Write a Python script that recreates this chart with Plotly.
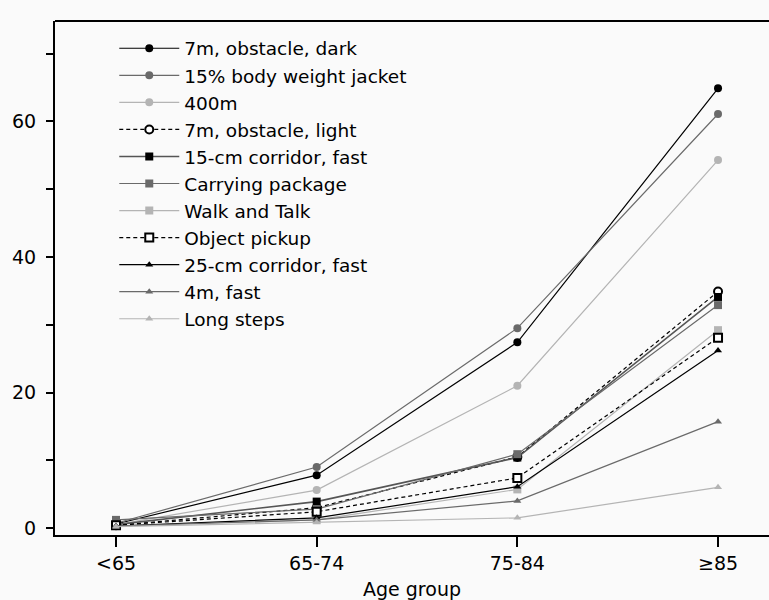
import plotly.graph_objects as go

age_groups = ["<65", "65-74", "75-84", "≥85"]

obstacle_dark = [0.6, 7.8, 27.4, 64.9]
jacket_15 = [0.7, 9.0, 29.5, 61.1]
walk_400m = [0.5, 5.6, 21.0, 54.3]
obstacle_light = [0.4, 3.0, 10.5, 34.9]
corridor_15cm = [0.5, 3.9, 10.4, 34.1]
carrying_package = [1.2, 2.8, 10.9, 32.9]
walk_and_talk = [0.3, 1.2, 5.7, 29.2]
object_pickup = [0.4, 2.4, 7.4, 28.1]
corridor_25cm = [0.3, 1.5, 6.1, 26.2]
fast_4m = [0.3, 1.2, 4.0, 15.7]
long_steps = [0.2, 0.8, 1.5, 6.0]

BLACK = "#000000"
DARK = "#6a6a6a"
LIGHT = "#b4b4b4"

series = [
    ("7m, obstacle, dark", obstacle_dark, BLACK, "solid", 1.2, "circle", BLACK, BLACK),
    ("15% body weight jacket", jacket_15, DARK, "solid", 1.2, "circle", DARK, DARK),
    ("400m", walk_400m, LIGHT, "solid", 1.2, "circle", LIGHT, LIGHT),
    ("7m, obstacle, light", obstacle_light, BLACK, "dash", 1.2, "circle", "white", BLACK),
    ("15-cm corridor, fast", corridor_15cm, "#555555", "solid", 1.6, "square", BLACK, BLACK),
    ("Carrying package", carrying_package, DARK, "solid", 1.2, "square", DARK, DARK),
    ("Walk and Talk", walk_and_talk, LIGHT, "solid", 1.2, "square", LIGHT, LIGHT),
    ("Object pickup", object_pickup, BLACK, "dash", 1.2, "square", "white", BLACK),
    ("25-cm corridor, fast", corridor_25cm, BLACK, "solid", 1.2, "triangle-up", BLACK, BLACK),
    ("4m, fast", fast_4m, DARK, "solid", 1.2, "triangle-up", DARK, DARK),
    ("Long steps", long_steps, LIGHT, "solid", 1.2, "triangle-up", LIGHT, LIGHT),
]

fig = go.Figure()
for name, vals, lc, dash, lw, sym, fc, mc in series:
    open_marker = fc == "white"
    fig.add_trace(go.Scatter(
        x=age_groups, y=vals, name=name, mode="lines+markers",
        line=dict(color=lc, width=lw, dash="4px,3px" if dash == "dash" else "solid"),
        marker=dict(symbol=sym, size=8 if sym != "triangle-up" else 7,
                    color=fc, line=dict(color=mc, width=2 if open_marker else 0)),
    ))

FONT = "DejaVu Sans, Liberation Sans, Arial, sans-serif"
FS = 19

fig.update_layout(
    width=769, height=600,
    margin=dict(l=55, r=0, t=21, b=65),
    paper_bgcolor="#fafafa", plot_bgcolor="#fafafa",
    font=dict(family=FONT, size=FS, color="black"),
    showlegend=True,
    legend=dict(x=0.083, y=0.983, xanchor="left", yanchor="top",
                bgcolor="rgba(0,0,0,0)", font=dict(size=18.5, color="black"),
                itemwidth=60, tracegroupgap=0),
    xaxis=dict(
        type="category", range=[-0.304, 3.254],
        showline=True, linecolor="black", linewidth=2,
        ticks="outside", ticklen=10, tickwidth=1.5, tickcolor="black",
        showgrid=False, zeroline=False,
        title=dict(text="Age group", font=dict(size=FS), standoff=12),
        tickfont=dict(size=FS),
    ),
    yaxis=dict(
        range=[-1.03, 74.83],
        tickvals=[0, 10, 20, 30, 40, 50, 60, 70],
        ticktext=["0", "", "20", "", "40", "", "60", ""],
        showline=True, linecolor="black", linewidth=2,
        ticks="outside", ticklen=7, tickwidth=1.5, tickcolor="black",
        showgrid=False, zeroline=False,
        tickfont=dict(size=FS),
        ticklabelstandoff=6,
    ),
    shapes=[
        dict(type="line", xref="paper", yref="paper", x0=0, x1=1, y0=1, y1=1,
             line=dict(color="black", width=2)),
    ],
)

fig.write_html("out.html")
